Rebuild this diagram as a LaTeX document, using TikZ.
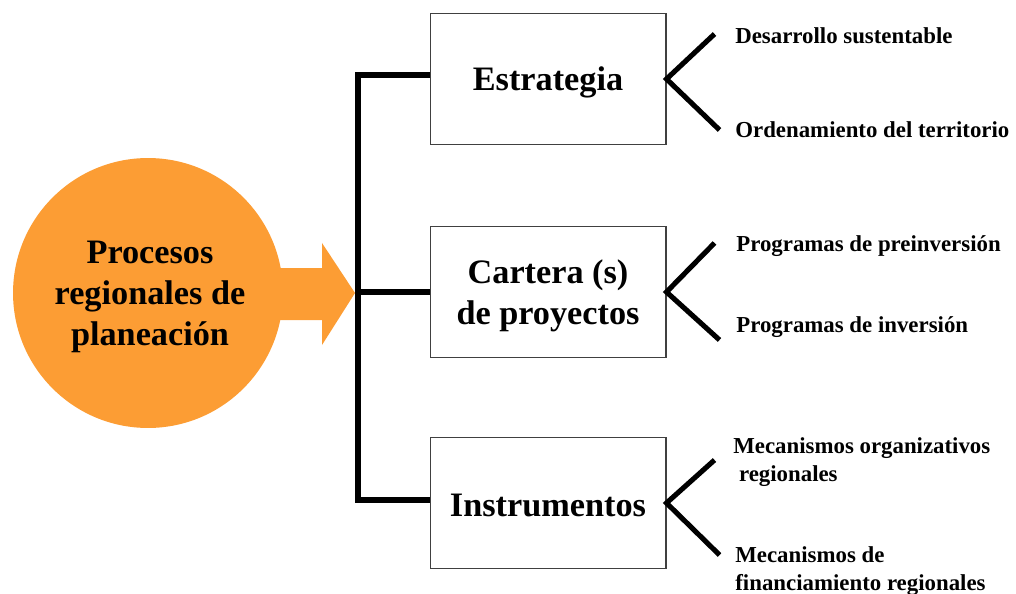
\documentclass[tikz,border=0pt]{standalone}
\usepackage{fontspec}
\setmainfont{Liberation Serif}
\usetikzlibrary{calc}

\definecolor{procorange}{RGB}{252,157,52}

\begin{document}
\begin{tikzpicture}[x=0.02cm, y=-0.02cm]
     \tikzstyle{box}=[draw=black!75, line width=0.6pt, minimum width=4.72cm, minimum height=2.62cm]
     \tikzstyle{boxtext}=[align=center, inner sep=0pt, font=\fontsize{19.5}{23.5}\selectfont\bfseries]
     \tikzstyle{leaf}=[anchor=west, inner sep=0pt, align=left, font=\fontsize{13}{16}\selectfont\bfseries]
     \tikzstyle{bar}=[line width=3.4pt]
     \tikzstyle{fork}=[line width=2.9pt]

     \useasboundingbox (0,0) rectangle (1016,594);

     % proceso central y flecha
     \fill[procorange] (270,268) -- (322,268) -- (322,243) -- (355,293)
                       -- (322,345) -- (322,320) -- (270,320) -- cycle;
     \node[circle, fill=procorange, minimum size=5.4cm, inner sep=0pt] (proc) at (148,293) {};
     \node[boxtext] (proctext) at ($(proc)+(2,4)$) {Procesos\\ regionales de\\ planeación};

     \node[box] (estr) at (548,79) {};
     \node[box] (cart) at (548,292) {};
     \node[box] (inst) at (548,503) {};
     \node[boxtext] (estrtext) at ($(estr)+(0,3)$) {Estrategia};
     \node[boxtext] (carttext) at ($(cart)+(0,4)$) {Cartera (s)\\ de proyectos};
     \node[boxtext] (insttext) at ($(inst)+(0,2)$) {Instrumentos};

     \coordinate (spine) at (358,292);
     \draw[bar] ($(estr.west)+(0,-4)$) -| (spine) |- ($(inst.west)+(0,-3)$);
     \draw[bar] (spine) -- (cart.west);

     % ramas
     \draw[fork] ($(estr.east)+(48,-45)$) -- (estr.east) -- ($(estr.east)+(53,51)$);
     \draw[fork] ($(cart.east)+(48,-49)$) -- (cart.east) -- ($(cart.east)+(53,48)$);
     \draw[fork] ($(inst.east)+(48,-43)$) -- (inst.east) -- ($(inst.east)+(53,52)$);

     \node[leaf] (des) at (735,36) {Desarrollo sustentable};
     \node[leaf] (ord) at (735,130) {Ordenamiento del territorio};
     \node[leaf] (pre) at (736,246) {Programas de preinversión};
     \node[leaf] (inv) at (736,327) {Programas de inversión};
     \node[leaf] (org) at (733,462) {Mecanismos organizativos\\ \hspace{0.25em}regionales};
     \node[leaf] (fin) at (735,571) {Mecanismos de\\ financiamiento regionales};
   \end{tikzpicture}
\end{document}
